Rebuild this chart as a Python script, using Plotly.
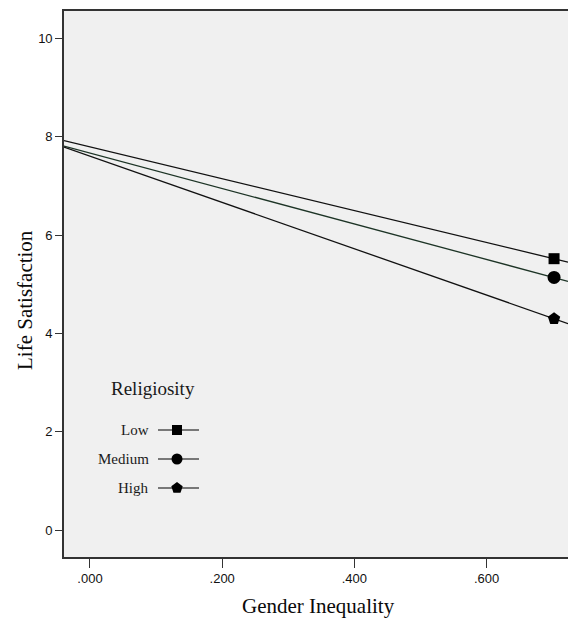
import plotly.graph_objects as go

# ---- data ----
groups = ["Low", "Medium", "High"]
x_line = [-0.0393, 0.7231]          # fitted lines span the axis
low_line = [7.92, 5.45]
medium_line = [7.81, 5.06]
high_line = [7.79, 4.20]
x_marker = [0.702]
low_marker = [5.52]
medium_marker = [5.14]
high_marker = [4.30]
x_tickvals = [0.0, 0.2, 0.4, 0.6]
x_ticktext = [".000", ".200", ".400", ".600"]
y_tickvals = [0, 2, 4, 6, 8, 10]

symbols = ["square", "circle", "pentagon"]
line_colors = ["#111111", "#1d3426", "#111111"]
marker_sizes = [11, 13, 13]

W, H = 568, 618
L, R, T, B = 64, 568, 11, 557


def px(xp):
    return (xp - L) / (R - L)


def py(yp):
    return (B - yp) / (B - T)


fig = go.Figure()
lines = [low_line, medium_line, high_line]
marks = [low_marker, medium_marker, high_marker]
for g, ln, mk, sym, col, ms in zip(groups, lines, marks, symbols, line_colors, marker_sizes):
    fig.add_trace(go.Scatter(x=x_line, y=ln, mode="lines",
                             line=dict(color=col, width=1.3),
                             showlegend=False, hoverinfo="skip"))
    fig.add_trace(go.Scatter(x=x_marker, y=mk, mode="markers",
                             marker=dict(symbol=sym, size=ms, color="black"),
                             name=g, showlegend=False))

# ---- custom legend (pixel overlay axes) ----
leg_y = [430, 459, 488]
leg_sizes = [10, 11, 12]
for g, y, sym, s in zip(groups, leg_y, symbols, leg_sizes):
    fig.add_trace(go.Scatter(x=[158, 199], y=[y, y], mode="lines",
                             line=dict(color="black", width=1.2),
                             xaxis="x2", yaxis="y2", showlegend=False, hoverinfo="skip"))
    fig.add_trace(go.Scatter(x=[177], y=[y], mode="markers",
                             marker=dict(symbol=sym, size=s, color="black"),
                             xaxis="x2", yaxis="y2", showlegend=False, hoverinfo="skip"))
    fig.add_annotation(x=px(151), y=py(y), xref="paper", yref="paper", text=g, showarrow=False,
                       xanchor="right", yanchor="middle",
                       font=dict(family="Liberation Serif", size=15, color="#1a1a1a"))
fig.add_annotation(x=px(153), y=py(388), xref="paper", yref="paper", text="Religiosity",
                   showarrow=False, xanchor="center", yanchor="middle",
                   font=dict(family="Liberation Serif", size=19, color="#1a1a1a"))

# axis titles
fig.add_annotation(x=px(318), y=py(606), xref="paper", yref="paper",
                   text="Gender Inequality", showarrow=False, xanchor="center", yanchor="middle",
                   font=dict(family="Liberation Serif", size=21, color="#0a0a0a"))
fig.add_annotation(x=px(25), y=py(300), xref="paper", yref="paper", text="Life Satisfaction",
                   showarrow=False, textangle=-90, xanchor="center", yanchor="middle",
                   font=dict(family="Liberation Serif", size=21, color="#0a0a0a"))

fig.update_layout(
    width=W, height=H,
    margin=dict(l=L, r=W - R, t=T, b=H - B, pad=0),
    paper_bgcolor="white", plot_bgcolor="#f0f0f0",
    xaxis=dict(range=[-0.0393, 0.7231], tickvals=x_tickvals, ticktext=x_ticktext,
               showgrid=False, zeroline=False, showline=True, linecolor="#333",
               linewidth=1.6, mirror=True, ticks="outside", ticklen=9, tickwidth=1.3,
               tickcolor="#333",
               tickfont=dict(family="Liberation Sans", size=13, color="#111")),
    yaxis=dict(range=[-0.543, 10.554], tickvals=y_tickvals,
               showgrid=False, zeroline=False, showline=True, linecolor="#333",
               linewidth=1.6, ticks="outside", ticklen=7, tickwidth=1.3, tickcolor="#333",
               tickfont=dict(family="Liberation Sans", size=13, color="#111")),
    xaxis2=dict(range=[L, R], overlaying="x", visible=False, fixedrange=True),
    yaxis2=dict(range=[B, T], overlaying="y", visible=False, fixedrange=True),
    showlegend=False,
)

fig.write_html("out.html", config={"displayModeBar": False},
               post_script="document.body.style.margin='0';")
